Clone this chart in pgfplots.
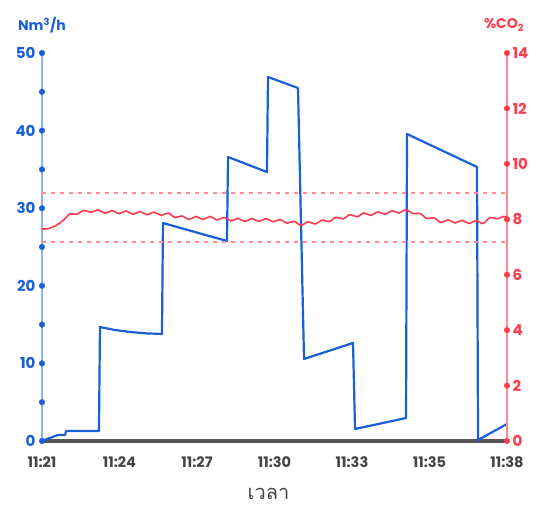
\documentclass[border=0pt]{standalone}
\usepackage{fontspec}
\setmainfont{Poppins}
\newfontfamily\thaifont[Script=Thai]{Loma}
\usepackage{pgfplots}
\pgfplotsset{compat=1.18}

\definecolor{flowblue}{HTML}{1A5FD6}
\definecolor{axblue}{HTML}{8AB4F8}
\definecolor{coredd}{HTML}{FF3B4E}
\definecolor{axred}{HTML}{FF8A94}
\definecolor{baseline}{HTML}{555555}
\definecolor{labgray}{HTML}{444444}

\begin{document}
\begin{tikzpicture}
\useasboundingbox (-42pt,-69pt) rectangle (502pt,441pt);

% flow, left axis
\begin{axis}[
  at={(0,0)}, anchor=south west,
  scale only axis,
  width=465pt, height=388pt,
  xmin=0, xmax=6,
  ymin=0, ymax=50,
  axis x line*=bottom,
  axis y line*=left,
  x axis line style={draw=baseline, line width=3.5pt, -},
  y axis line style={draw=axblue, line width=1.2pt, -},
  xtick={0,1,2,3,4,5,6},
  xticklabels={11:21,11:24,11:27,11:30,11:33,11:35,11:38},
  ytick={0,10,20,30,40,50},
  major tick length=0pt,
  minor tick length=0pt,
  /pgf/number format/assume math mode=true,
  xticklabel style={font=\bfseries\fontsize{14.5}{14.5}\selectfont, text=labgray, yshift=-12pt},
  yticklabel style={font=\bfseries\fontsize{15}{15}\selectfont, text=flowblue, xshift=-3pt},
  clip mode=individual,
]
\addplot[flowblue, line width=2.2pt, line join=round] coordinates {
  (0,0) (0.168,0.64) (0.206,0.77) (0.297,0.77) (0.310,1.29) (0.735,1.29)
  (0.748,14.69) (0.942,14.30) (1.135,14.05) (1.342,13.87) (1.548,13.79)
  (1.561,28.09) (2.387,25.77)
  (2.400,36.60) (2.903,34.66)
  (2.916,46.91) (3.303,45.49)
  (3.381,10.57) (4.013,12.63)
  (4.039,1.55) (4.697,2.96)
  (4.710,39.56) (5.613,35.31)
  (5.626,0.13) (6.0,2.19)
};
\addplot[only marks, mark=*, mark size=2.8pt, flowblue] coordinates {
  (0,0) (0,5) (0,10) (0,15) (0,20) (0,25) (0,30) (0,35) (0,40) (0,45) (0,50)
};
\node[font=\bfseries\fontsize{14}{14}\selectfont, text=flowblue]
  at (rel axis cs:0,1) [yshift=28pt] {Nm\textsuperscript{3}/h};
\node[font=\thaifont\fontsize{20}{20}\selectfont, text=labgray, inner sep=1pt]
  at (rel axis cs:0.5,0) [yshift=-53pt, xshift=-6pt] {เวลา};
\end{axis}

% CO2, right axis
\begin{axis}[
  at={(0,0)}, anchor=south west,
  scale only axis,
  width=465pt, height=388pt,
  xmin=0, xmax=6,
  ymin=0, ymax=14,
  axis x line=none,
  axis y line*=right,
  y axis line style={draw=axred, line width=1.2pt, -},
  ytick={0,2,4,6,8,10,12,14},
  major tick length=0pt,
  /pgf/number format/assume math mode=true,
  yticklabel style={font=\bfseries\fontsize{15}{15}\selectfont, text=coredd, xshift=2pt},
  clip mode=individual,
]
\addplot[axred, line width=1.4pt, dash pattern=on 4pt off 5pt] coordinates {(0,8.95) (6,8.95)};
\addplot[axred, line width=1.4pt, dash pattern=on 4pt off 5pt] coordinates {(0,7.18) (6,7.18)};
\addplot[coredd, line width=1.6pt, smooth, tension=0.6] coordinates {
  (0,7.649) (0.090,7.667) (0.181,7.776) (0.271,7.956) (0.361,8.191)
  (0.452,8.183) (0.542,8.324) (0.632,8.245) (0.723,8.339) (0.813,8.216)
  (0.903,8.317) (0.994,8.201) (1.084,8.299) (1.174,8.180) (1.265,8.281)
  (1.355,8.162) (1.445,8.259) (1.535,8.140) (1.626,8.223) (1.716,8.064)
  (1.806,8.122) (1.897,7.992) (1.987,8.100) (2.077,7.992) (2.168,8.100)
  (2.258,7.974) (2.348,8.068) (2.439,7.942) (2.529,8.032) (2.619,7.920)
  (2.710,8.028) (2.800,7.920) (2.890,8.028) (2.981,7.909) (3.071,7.992)
  (3.161,7.859) (3.252,7.927) (3.342,7.779) (3.432,7.913) (3.523,7.830)
  (3.613,7.971) (3.703,7.913) (3.794,8.072) (3.884,8.014) (3.974,8.165)
  (4.065,8.090) (4.155,8.227) (4.245,8.140) (4.335,8.270) (4.426,8.180)
  (4.516,8.310) (4.606,8.223) (4.697,8.342) (4.787,8.201) (4.877,8.209)
  (4.968,8.025) (5.058,8.057) (5.148,7.884) (5.239,7.981) (5.329,7.866)
  (5.419,7.963) (5.510,7.848) (5.600,7.956) (5.690,7.848) (5.781,8.064)
  (5.871,8.017) (5.961,8.104) (6.0,8.046)
};
\addplot[only marks, mark=*, mark size=2.8pt, coredd] coordinates {
  (6,0) (6,2) (6,4) (6,6) (6,8) (6,10) (6,12) (6,14)
};
\node[font=\bfseries\fontsize{14}{14}\selectfont, text=coredd]
  at (rel axis cs:1,1) [yshift=28pt, xshift=-3pt] {\%CO\textsubscript{2}};
\end{axis}
\end{tikzpicture}
\end{document}
